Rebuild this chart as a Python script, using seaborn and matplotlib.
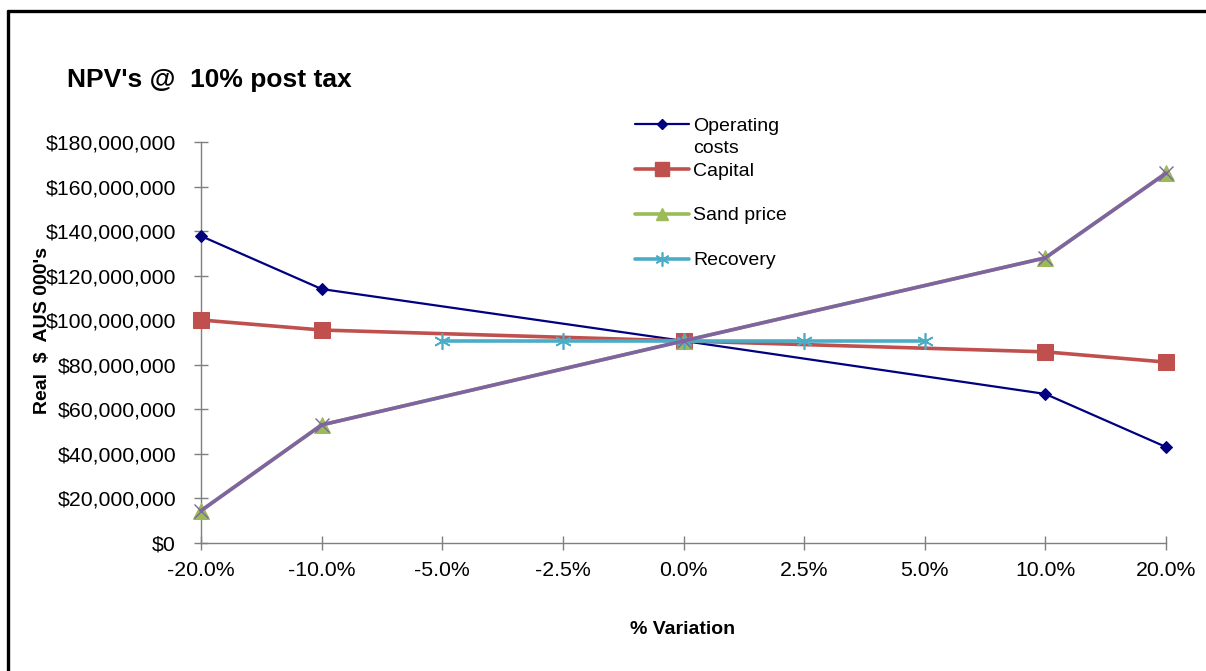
import numpy as np
import pandas as pd
import matplotlib
matplotlib.use("Agg")
import matplotlib.pyplot as plt
from matplotlib.lines import Line2D
from matplotlib.ticker import FuncFormatter
import seaborn as sns

# Sensitivity categories (evenly spaced on the axis)
variation_labels = ["-20.0%", "-10.0%", "-5.0%", "-2.5%", "0.0%", "2.5%", "5.0%", "10.0%", "20.0%"]

nan = np.nan
# NPV values (A$) at 10% post tax for each varied driver
operating_costs = [137.8e6, 114.0e6, nan, nan, 90.7e6, nan, nan, 66.9e6, 43.1e6]
capital = [100.1e6, 95.6e6, nan, nan, 90.7e6, nan, nan, 85.8e6, 81.2e6]
sand_price = [14.5e6, 53.0e6, nan, nan, 90.7e6, nan, nan, 128.0e6, 166.0e6]
recovery = [nan, nan, 90.7e6, 90.7e6, 90.7e6, 90.7e6, 90.7e6, nan, nan]
sand_price_dup = [14.5e6, 53.0e6, nan, nan, 90.7e6, nan, nan, 128.0e6, 166.0e6]

sns.set_theme(style="white")
plt.rcParams["font.family"] = ["Liberation Sans", "DejaVu Sans"]
plt.rcParams["text.color"] = "black"
plt.rcParams["axes.labelcolor"] = "black"
plt.rcParams["xtick.color"] = "black"
plt.rcParams["ytick.color"] = "black"

W, H = 1206, 671
fig = plt.figure(figsize=(W / 100, H / 100), dpi=100)
ax = fig.add_axes([201 / W, 1 - 543 / H, (1166 - 201) / W, (543 - 142) / H])

pos = np.arange(len(variation_labels))

series = [
    ("Operating costs", operating_costs, dict(color="#000080", lw=1.6, marker="D", ms=6.5,
                                              mec="#000080", mfc="#000080")),
    ("Capital", capital, dict(color="#C0504D", lw=2.6, marker="s", ms=11.5,
                              mec="#C0504D", mfc="#C0504D")),
    ("Sand price", sand_price, dict(color="#9BBB59", lw=2.6, marker="^", ms=11,
                                    mec="#9BBB59", mfc="#9BBB59")),
    ("Recovery", recovery, dict(color="#4BACC6", lw=2.6, marker=(6, 2, 0), ms=12,
                                mec="#4BACC6", mew=1.2)),
    ("_sand_dup", sand_price_dup, dict(color="#8064A2", lw=2.6, marker="x", ms=10,
                                       mec="#8064A2", mew=1.0)),
]

for i, (name, vals, style) in enumerate(series):
    df = pd.DataFrame({"pos": pos, "npv": vals}).dropna()
    sns.lineplot(data=df, x="pos", y="npv", ax=ax, estimator=None, sort=False,
                 clip_on=False, zorder=3 + i, legend=False, **style)

ax.set_xlim(0, 8)
ax.set_ylim(0, 180e6)
ax.set_xticks(pos)
ax.set_xticklabels(variation_labels)
ax.set_yticks(np.arange(0, 180e6 + 1, 20e6))
ax.yaxis.set_major_formatter(FuncFormatter(lambda v, p: f"${v:,.0f}"))
ax.set_xlabel("")
ax.set_ylabel("")

axis_grey = "#7F7F7F"
for s in ["top", "right"]:
    ax.spines[s].set_visible(False)
for s in ["left", "bottom"]:
    ax.spines[s].set_color(axis_grey)
    ax.spines[s].set_linewidth(1.0)
ax.tick_params(axis="both", which="major", direction="inout", length=10, width=1.0,
               color=axis_grey, labelsize=15.3, labelcolor="black",
               left=True, bottom=True)
ax.tick_params(axis="y", pad=13)
ax.tick_params(axis="x", pad=8)
ax.grid(False)

# Legend: one row per text line, keeping the wrapped "Operating costs" label
blank = Line2D([], [], linestyle="none", marker="none")
handles, labels = [], []
names = {"Operating costs": "Operating", "Capital": "Capital",
         "Sand price": "Sand price", "Recovery": "Recovery"}
for name, vals, style in series[:4]:
    h = Line2D([], [], color=style["color"], lw=style["lw"], marker=style["marker"],
               ms=style["ms"] * 0.85, mec=style.get("mec"), mfc=style.get("mfc", style["color"]),
               mew=style.get("mew", 1.0))
    handles.append(h)
    labels.append(names[name])
    if name == "Operating costs":
        handles.append(blank)
        labels.append("costs")
    elif name in ("Capital", "Sand price"):
        handles.append(blank)
        labels.append(" ")
leg = fig.legend(handles, labels, loc="upper left",
                 bbox_to_anchor=(635 / W, 1 - 117 / H), bbox_transform=fig.transFigure,
                 frameon=False, fontsize=14, handlelength=2.8, handletextpad=0.2,
                 labelspacing=0.25, borderpad=0, borderaxespad=0)
for t in leg.get_texts():
    t.set_color("black")

fig.text(67 / W, 1 - 87 / H, "NPV's @  10% post tax", fontsize=19, fontweight="bold",
         ha="left", va="baseline", color="black")
fig.text(43 / W, 1 - 331 / H, "Real  $  AUS 000's", fontsize=14, fontweight="bold",
         rotation=90, ha="center", va="center", color="black")
fig.text(683 / W, 1 - 629 / H, "% Variation", fontsize=14, fontweight="bold",
         ha="center", va="center", color="black")

# Chart area border (top and left edges)
fig.add_artist(Line2D([8 / W, 1.01], [1 - 11 / H, 1 - 11 / H], color="black", lw=2.4,
                      transform=fig.transFigure))
fig.add_artist(Line2D([8 / W, 8 / W], [1 - 11 / H, -0.01], color="black", lw=2.4,
                      transform=fig.transFigure))

fig.savefig("out.png", dpi=100)
